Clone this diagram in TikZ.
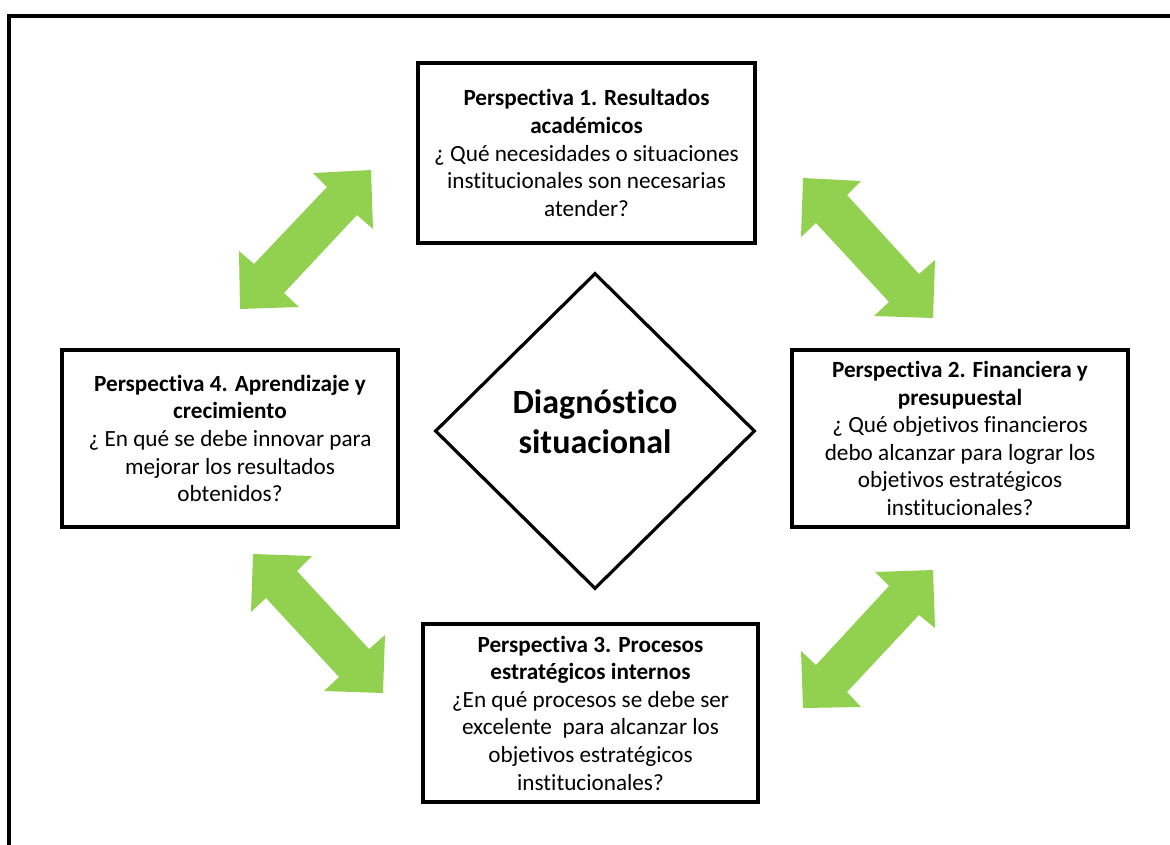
\documentclass[tikz,border=0pt]{standalone}
\usepackage{fontspec}
\setmainfont{Carlito}[Ligatures={NoCommon}]
\usetikzlibrary{shapes.geometric}
\definecolor{arrowgreen}{RGB}{146,208,80}
\tikzset{
  perspbox/.style={draw=black, line width=4pt, fill=white, rectangle,
    minimum width=336pt, minimum height=177pt, align=center,
    font=\fontsize{23.2}{27.6}\selectfont, inner sep=0pt},
  centrediamond/.style={draw=black, line width=3.2pt, diamond, aspect=1,
    minimum width=320pt, minimum height=316pt, inner sep=0pt},
  centretext/.style={align=center, font=\fontsize{34}{40}\selectfont\bfseries},
  blockarrow/.style={fill=arrowgreen, draw=none},
  frameline/.style={draw=black, line width=4pt}
}
\begin{document}
\begin{tikzpicture}[x=1pt, y=-1pt]
  \useasboundingbox (0,0) rectangle (1170,844);
  \clip (0,0) rectangle (1170,844);

  % outer frame (continues past the page on the right and bottom)
  \draw[frameline] (9,860) -- (9,16) -- (1190,16);

  % four perspective boxes
  \node[perspbox, minimum width=337pt, minimum height=180pt] (p1) at (586.5,153)
    {\textbf{Perspectiva 1. Resultados}\\ \textbf{académicos}\\
     ¿ Qué necesidades o situaciones\\ institucionales son necesarias\\ atender?};
  \node[perspbox] (p2) at (960,438.5)
    {\textbf{Perspectiva 2. Financiera y}\\ \textbf{presupuestal}\\
     ¿ Qué objetivos financieros\\ debo alcanzar para lograr los\\
     objetivos estratégicos\\ institucionales?};
  \node[perspbox, minimum width=335pt, minimum height=178pt] (p3) at (590.5,713)
    {\textbf{Perspectiva 3. Procesos}\\ \textbf{estratégicos internos}\\
     ¿En qué procesos se debe ser\\ excelente\ \ para alcanzar los\\
     objetivos estratégicos\\ institucionales?};
  \node[perspbox] (p4) at (230,438.5)
    {\textbf{Perspectiva 4. Aprendizaje y}\\ \textbf{crecimiento}\\
     ¿ En qué se debe innovar para\\ mejorar los resultados\\ obtenidos?};

  % central diamond
  \node[centrediamond] (diag) at (595,431) {};
  \node[centretext] (diaglabel) at ([yshift=9pt]diag.center) {Diagnóstico\\situacional};

  % double-headed block arrows between neighbouring perspectives
  \fill[blockarrow] (371,170) -- (313,173) -- (327,187) -- (254,264) -- (239,251)
    -- (240,309) -- (299,307) -- (284,293) -- (357,215) -- (373,229) -- cycle;
  \fill[blockarrow] (803,178) -- (861,181) -- (847,195) -- (919,274) -- (935,260)
    -- (933,318) -- (874,316) -- (889,302) -- (816,223) -- (801,237) -- cycle;
  \fill[blockarrow] (253,554) -- (312,556) -- (297,571) -- (369,649) -- (385,635)
    -- (383,693) -- (324,691) -- (339,677) -- (266,598) -- (251,612) -- cycle;
  \fill[blockarrow] (933,570) -- (875,572) -- (889,586) -- (816,665) -- (801,651)
    -- (803,708) -- (861,707) -- (847,692) -- (919,615) -- (935,628) -- cycle;
\end{tikzpicture}
\end{document}
